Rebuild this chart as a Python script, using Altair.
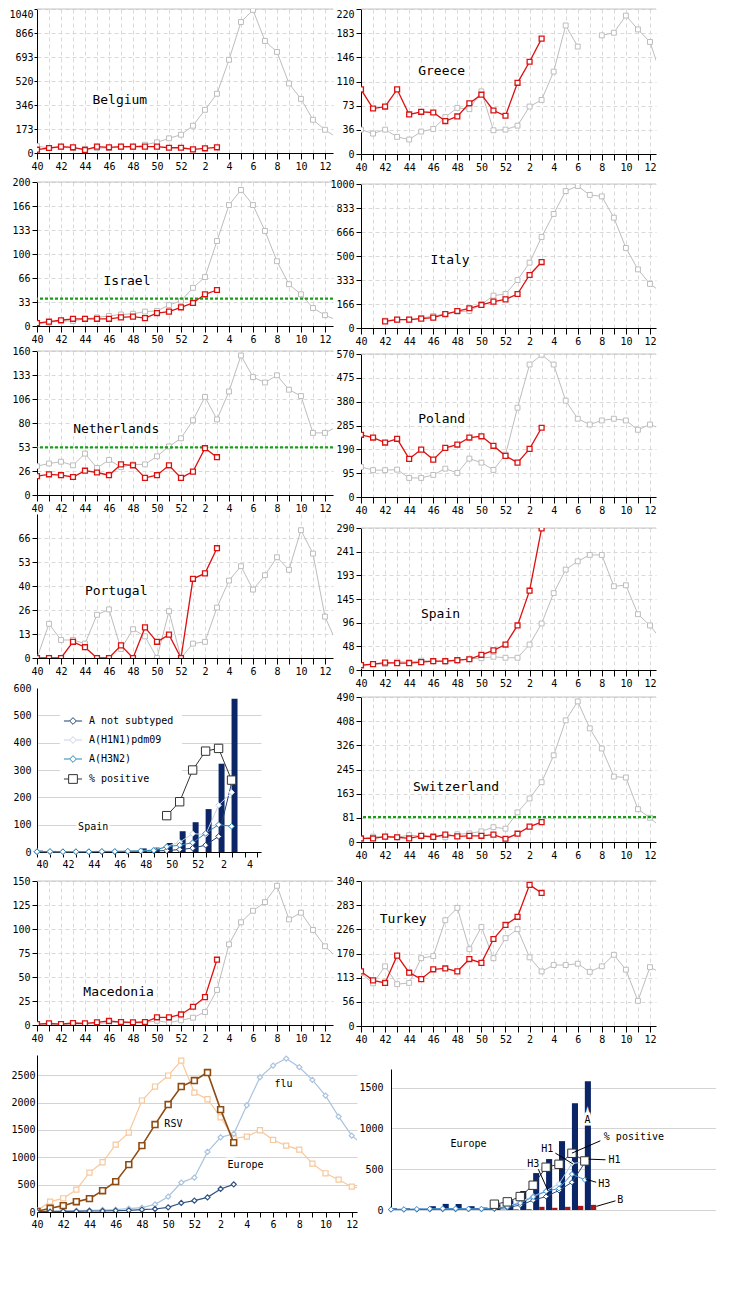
import altair as alt
import pandas as pd

FONT = "DejaVu Sans Mono"
GRID = "#d9d9d9"
GRAY = "#bdbdbd"
RED = "#dd1010"
GREEN = "#17a017"
NAVY = "#0b2566"

WEEK_EXPR = "datum.value % 2 == 0 ? (datum.value <= 12 ? 40 + datum.value : datum.value - 12) + '' : ''"

# ---------------- data (index 0 = week 40, 13 = week 1) ----------------
BELGIUM_GRAY = [50, 36, 43, 36, 29, 36, 36, 43, 43, 60, 77, 106, 132, 197, 312, 428, 673, 946, 1033, 809, 730, 502, 391, 240, 168, 110]
BELGIUM_RED = [24, 36, 46, 41, 22, 46, 41, 46, 46, 46, 46, 38, 38, 26, 34, 41]
GREECE_GRAY = [37, 31, 37, 26, 22, 34, 38, 56, 70, 68, 95, 36, 37, 43, 72, 82, 125, 195, 163, None, 180, 184, 210, 189, 170, 115]
GREECE_RED = [98, 69, 72, 98, 60, 64, 63, 50, 57, 77, 90, 66, 58, 108, 140, 175]
ISRAEL_GRAY = [3, 5, 7, 7, 10, 12, 14, 16, 17, 20, 21, 29, 35, 53, 68, 118, 168, 189, 168, 132, 90, 58, 44, 25, 15, 8]
ISRAEL_RED = [4, 6, 8, 10, 10, 10, 10, 12, 13, 11, 18, 20, 26, 32, 44, 50]
ITALY_GRAY = [None, None, 51, 58, 58, 69, 83, 97, 113, 118, 164, 225, 236, 333, 454, 632, 792, 951, 986, 924, 914, 766, 556, 407, 306, 245]
ITALY_RED = [None, None, 46, 58, 58, 65, 72, 97, 118, 137, 160, 183, 199, 236, 368, 458]
NETH_GRAY = [32, 35, 37, 33, 46, 30, 39, 31, 34, 34, 43, 54, 63, 83, 109, 84, 115, 155, 131, 125, 133, 117, 110, 69, 69, 76]
NETH_RED = [21, 23, 22, 20, 27, 25, 22, 34, 33, 19, 22, 33, 19, 26, 52, 42]
POLAND_GRAY = [120, 107, 107, 109, 76, 76, 88, 113, 96, 153, 137, 108, 169, 356, 528, 567, 528, 384, 312, 289, 305, 312, 305, 268, 289, 270]
POLAND_RED = [248, 237, 217, 232, 152, 189, 149, 196, 209, 237, 242, 204, 164, 137, 192, 276]
PORTUGAL_GRAY = [0, 19, 10, 10, 8, 24, 27, 5, 16, 12, 0, 26, 0, 8, 9, 28, 43, 51, 38, 46, 56, 49, 71, 58, 23, 8]
PORTUGAL_RED = [0, 0, 0, 9, 6, 0, 0, 7, 0, 17, 9, 13, 0, 44, 47, 61]
SPAIN_GRAY = [8, 12, 12, 17, 16, 19, 18, 17, 19, 23, 24, 27, 25, 25, 52, 95, 157, 205, 222, 235, 235, 171, 173, 114, 91, 60]
SPAIN_RED = [10, 12, 15, 14, 14, 16, 18, 18, 20, 22, 31, 40, 52, 91, 162, 289]
SWISS_GRAY = [10, 18, 17, 16, 23, 20, 20, 16, 26, 29, 36, 50, 45, 100, 147, 202, 293, 411, 475, 384, 316, 221, 218, 111, 82, 46]
SWISS_RED = [12, 12, 18, 16, 12, 21, 17, 25, 19, 21, 21, 25, 11, 28, 52, 67]
MACED_GRAY = [0, 0.7, 0.3, 1, 1, 1.7, 2.4, 2.8, 2.1, 2.4, 4.5, 2.4, 4.9, 7.6, 13.5, 36.5, 84, 107, 119, 128, 145, 110, 117, 99, 82, 70]
MACED_RED = [1, 1.7, 1, 2.1, 1.7, 2.8, 4.2, 3.1, 2.8, 3.1, 8, 8, 11, 19, 29, 68]
TURKEY_GRAY = [124, 100, 140, 98, 101, 159, 164, 248, 277, 180, 232, 159, 206, 227, 161, 128, 143, 143, 146, 127, 140, 167, 132, 59, 138, 123]
TURKEY_RED = [128, 107, 101, 165, 125, 110, 133, 135, 128, 157, 148, 204, 237, 256, 331, 312]

# Spain virology panel
SPAIN_A_BARS = [5, 4, 1, 3, 1, 2, 2, 2, 13, 16, 33, 76, 109, 157, 323, 561]
SPAIN_SERIES = ["A not subtyped", "A(H1N1)pdm09", "A(H3N2)", "% positive"]
SPAIN_NS = [1, 1, 1, 1, 1, 1, 1, 2, 3, 4, 5, 9, 14, 25, 57, 252]
SPAIN_H1 = [2, 1, 1, 2, 2, 3, 3, 4, 5, 8, 20, 36, 67, 64, 171, 218]
SPAIN_H3 = [1, 2, 1, 1, 1, 2, 2, 3, 4, 6, 19, 25, 34, 68, 100, 94]
SPAIN_POS = [None] * 10 + [133, 184, 300, 369, 379, 263]
SPAIN_COLORS = ["#1f3f73", "#c6d3e4", "#2b86b8", "#333333"]
SPAIN_SHAPES = ["diamond", "diamond", "diamond", "square"]
LEGEND_DIAMOND = "M-2.7,0H-1M1,0H2.7M-1,0L0,-1L1,0L0,1Z"
LEGEND_SQUARE = "M-2.7,0H-1.3M1.3,0H2.7M-1.3,-1.3H1.3V1.3H-1.3Z"

# Europe RSV / flu panel
EU_RSV_PREV = [24, 189, 250, 409, 720, 909, 1232, 1451, 2037, 2293, 2494, 2768, 2183, 2061, 1732, 1348, 1378, 1494, 1317, 1213, 1140, 884, 707, 591, 463, 420]
EU_RSV_CUR = [12, 67, 116, 189, 244, 390, 555, 866, 1213, 1598, 1964, 2293, 2403, 2549, 1872, 1268]
EU_FLU_PREV = [12, 18, 18, 24, 30, 37, 43, 61, 79, 140, 280, 537, 628, 1098, 1366, 1427, 1951, 2463, 2677, 2805, 2647, 2415, 2128, 1744, 1396, 1200]
EU_FLU_CUR = [6, 6, 12, 12, 18, 18, 24, 30, 43, 55, 85, 165, 207, 268, 421, 506]
EU_LINE_SERIES = [
    (EU_RSV_PREV, "#f7c89c", "square", 1.2, 26),
    (EU_FLU_PREV, "#a9c3de", "diamond", 1.2, 26),
    (EU_RSV_CUR, "#8e4c12", "square", 1.6, 34),
    (EU_FLU_CUR, "#2f5282", "diamond", 1.2, 26),
]
EU_LINE_LABELS = ["RSV", "Europe", "flu"]
EU_LINE_LABEL_POS = [(10.4, 1616), (15.9, 854), (18.8, 2342)]

# Europe virology panel
EU_A_BARS = [20, 20, 15, 47, 75, 75, 47, 30, 70, 120, 233, 453, 625, 845, 1310, 1580]
EU_B_BARS = [0, 0, 0, 2, 5, 8, 25, 8, 5, 8, 10, 39, 27, 39, 51, 63]
EU_V_NS = [5, 5, 6, 8, 10, 10, 10, 10, 12, 30, 60, 120, 165, 240, 340, 580]
EU_V_H1 = [3, 3, 4, 5, 6, 6, 7, 8, 25, 45, 100, 170, 235, 320, 570, 590]
EU_V_H3 = [8, 10, 12, 15, 18, 18, 16, 15, 20, 40, 85, 160, 230, 265, 440, 370]
EU_V_POS = [None] * 8 + [71, 100, 165, 304, 525, 561, 696, 602]
EU_V_SERIES = [
    (EU_V_H1, "#a9cbeb", "diamond", 26),
    (EU_V_NS, "#2d4d7c", "diamond", 26),
    (EU_V_H3, "#3d8fd3", "diamond", 26),
    (EU_V_POS, "#333333", "square", 70),
]
EU_V_LABELS = ["Europe", "A", "% positive", "H1", "H1", "H3", "H3", "B"]
EU_V_LABEL_POS = [(6.0, 808), (15.2, 1106), (18.8, 890), (12.1, 747), (17.3, 616), (11.0, 563), (16.5, 318), (17.75, 127)]
EU_V_LEADERS = [((16.2, 849), (14.0, 698)), ((12.7, 700), (14.1, 563)), ((16.6, 616), (15.3, 624)),
                ((11.4, 500), (12.15, 237)), ((15.9, 339), (15.06, 380)), ((17.4, 114), (15.9, 45))]

COUNTRIES = {
    "Belgium": dict(ymax=1040, gray=BELGIUM_GRAY, red=BELGIUM_RED, lab=(6.9, 383), inside=True,
                    ytick=3, ypad=1),
    "Greece": dict(ymax=220, gray=GREECE_GRAY, red=GREECE_RED, lab=(6.7, 126), inside=True),
    "Israel": dict(ymax=200, gray=ISRAEL_GRAY, red=ISRAEL_RED, lab=(7.5, 63), thr=38),
    "Italy": dict(ymax=1000, gray=ITALY_GRAY, red=ITALY_RED, lab=(7.4, 472)),
    "Netherlands": dict(ymax=160, gray=NETH_GRAY, red=NETH_RED, lab=(6.6, 73), thr=53),
    "Poland": dict(ymax=570, gray=POLAND_GRAY, red=POLAND_RED, lab=(6.7, 312)),
    "Portugal": dict(ymax=80, gray=PORTUGAL_GRAY, red=PORTUGAL_RED, lab=(6.6, 37), top=False),
    "Spain": dict(ymax=290, gray=SPAIN_GRAY, red=SPAIN_RED, lab=(6.6, 115)),
    "Switzerland": dict(ymax=490, gray=SWISS_GRAY, red=SWISS_RED, lab=(7.9, 187), thr=84),
    "Macedonia": dict(ymax=150, gray=MACED_GRAY, red=MACED_RED, lab=(6.8, 34)),
    "Turkey": dict(ymax=340, gray=TURKEY_GRAY, red=TURKEY_RED, lab=(3.5, 250)),
}


def week_axis(n, offset=0, grid=True, tick=6):
    return alt.Axis(values=list(range(n)), labelExpr=WEEK_EXPR, grid=grid, gridDash=[4, 3],
                    gridColor=GRID, domainColor="black", tickColor="black", tickSize=tick,
                    labelFont=FONT, labelFontSize=10, labelColor="black", title=None,
                    labelPadding=2, labelFlush=False, labelOverlap=False, labelOffset=offset)


def text_layers(df, X, Y, size):
    halo = alt.Chart(df).mark_text(font=FONT, fontSize=size, stroke="white", strokeWidth=5,
                                   color="white").encode(x=X, y=Y, text="t:N")
    txt = alt.Chart(df).mark_text(font=FONT, fontSize=size, color="black").encode(x=X, y=Y, text="t:N")
    return [halo, txt]


def series_df(vals):
    return pd.DataFrame({"i": list(range(len(vals))), "v": vals})


def country(name, width, height, xmax):
    c = COUNTRIES[name]
    ymax = c["ymax"]
    show_top = c.get("top", True)
    vals = [ymax * k / 6 for k in range(7 if show_top else 6)]
    baseline = "middle"
    if c.get("inside"):
        baseline = {"condition": {"test": "datum.value >= %s" % ymax, "value": "top"}, "value": "middle"}
    X = alt.X("i:Q", scale=alt.Scale(domain=[0, xmax], nice=False, zero=False), axis=week_axis(25))
    Y = alt.Y("v:Q", scale=alt.Scale(domain=[0, ymax], nice=False),
              axis=alt.Axis(values=vals, labelExpr="floor(datum.value)", grid=True, gridDash=[4, 3],
                            gridColor=GRID, domainColor="black", tickColor="black",
                            tickSize=c.get("ytick", 5), labelFont=FONT, labelFontSize=10,
                            labelColor="black", title=None, labelPadding=c.get("ypad", 2),
                            labelBaseline=baseline))
    g = series_df(c["gray"])
    r = series_df(c["red"])
    layers = []
    if show_top:
        layers.append(alt.Chart(pd.DataFrame({"v": [ymax]})).mark_rule(color="#c4c4c4").encode(y=Y))
    layers += [
        alt.Chart(g).mark_line(color=GRAY, strokeWidth=1, clip=True).encode(x=X, y=Y),
        alt.Chart(g).mark_point(shape="square", size=24, filled=True, fill="white", stroke=GRAY,
                                strokeWidth=1, opacity=1, clip=True).encode(x=X, y=Y),
    ]
    if "thr" in c:
        layers.append(alt.Chart(pd.DataFrame({"v": [c["thr"]]})).mark_rule(
            color=GREEN, strokeWidth=2.2, strokeDash=[3, 2]).encode(y=Y))
    layers += [
        alt.Chart(r).mark_line(color=RED, strokeWidth=1.3, clip=True).encode(x=X, y=Y),
        alt.Chart(r).mark_point(shape="square", size=24, filled=True, fill="white", stroke=RED,
                                strokeWidth=1.3, opacity=1, clip=True).encode(x=X, y=Y),
    ]
    lab = pd.DataFrame({"i": [c["lab"][0]], "v": [c["lab"][1]], "t": [name]})
    layers += text_layers(lab, X, Y, 13)
    return alt.layer(*layers).properties(width=width, height=height)


def spain_virology():
    X = alt.X("i:Q", scale=alt.Scale(domain=[0, 17.27], nice=False, zero=False),
              axis=week_axis(18, offset=5, grid=False, tick=5))
    Y = alt.Y("v:Q", scale=alt.Scale(domain=[0, 600], nice=False),
              axis=alt.Axis(values=[0, 100, 200, 300, 400, 500, 600], grid=True, format="d",
                            gridColor={"condition": {"test": "datum.value >= 600", "value": "transparent"},
                                       "value": "#d4d4d4"},
                            domainColor="black", ticks=False, labelFont=FONT, labelFontSize=10,
                            labelColor="black", title=None, labelPadding=6))
    rows = []
    for s, vals in zip(SPAIN_SERIES, [SPAIN_NS, SPAIN_H1, SPAIN_H3, SPAIN_POS]):
        for i, v in enumerate(vals):
            rows.append({"i": i, "v": v, "s": s})
    pts = pd.DataFrame(rows)
    leg = alt.Legend(title=None, orient="none", legendX=23, legendY=20, fillColor="white",
                     padding=8, labelFont=FONT, labelFontSize=10, labelColor="black", labelOffset=11,
                     symbolSize=45, symbolStrokeWidth=1, symbolFillColor="white", rowPadding=7)
    cscale = alt.Scale(domain=SPAIN_SERIES, range=SPAIN_COLORS)
    sscale = alt.Scale(domain=SPAIN_SERIES,
                       range=[LEGEND_DIAMOND, LEGEND_DIAMOND, LEGEND_DIAMOND, LEGEND_SQUARE])
    lab = pd.DataFrame({"i": [4.33], "v": [91], "t": ["Spain"]})
    layers = [
        alt.Chart(series_df(SPAIN_A_BARS)).mark_rect(color=NAVY).transform_calculate(
            i2="datum.i + 0.46").encode(x=X, x2="i2:Q", y=Y, y2=alt.datum(0)),
    ] + text_layers(lab, X, Y, 10)
    for vals, col, shape in zip([SPAIN_NS, SPAIN_H1, SPAIN_H3, SPAIN_POS], SPAIN_COLORS, SPAIN_SHAPES):
        d = series_df(vals)
        size = 70 if shape == "square" else 32
        layers.append(alt.Chart(d).mark_line(color=col, strokeWidth=1).encode(x=X, y=Y))
        layers.append(alt.Chart(d).mark_point(shape=shape, size=size, filled=True, fill="white",
                                              stroke=col, strokeWidth=1, opacity=1).encode(x=X, y=Y))
    layers.append(
        alt.Chart(pts).transform_filter("false").mark_point(
            filled=True, fill="white", strokeWidth=1, opacity=1).encode(
            x=X, y=Y,
            stroke=alt.Stroke("s:N", scale=cscale, legend=leg),
            shape=alt.Shape("s:N", scale=sscale, legend=leg)))
    return alt.layer(*layers).properties(width=224, height=164)


def europe_lines():
    X = alt.X("i:Q", scale=alt.Scale(domain=[0, 24.4], nice=False, zero=False),
              axis=week_axis(25, grid=False, tick=5))
    Y = alt.Y("v:Q", scale=alt.Scale(domain=[0, 2870], nice=False),
              axis=alt.Axis(values=[0, 500, 1000, 1500, 2000, 2500], grid=True, gridColor="#d4d4d4",
                            format="d", domainColor="black", ticks=False, labelFont=FONT,
                            labelFontSize=10, labelColor="black", labelPadding=2, title=None))
    lab = pd.DataFrame({"i": [p[0] for p in EU_LINE_LABEL_POS], "v": [p[1] for p in EU_LINE_LABEL_POS],
                        "t": EU_LINE_LABELS})
    layers = text_layers(lab, X, Y, 10)
    for vals, col, shape, sw, size in EU_LINE_SERIES:
        d = series_df(vals)
        layers.append(alt.Chart(d).mark_line(color=col, strokeWidth=sw, clip=True).encode(x=X, y=Y))
        layers.append(alt.Chart(d).mark_point(shape=shape, size=size, filled=True, fill="white",
                                              stroke=col, strokeWidth=sw, opacity=1, clip=True)
                      .encode(x=X, y=Y))
    return alt.layer(*layers).properties(width=320, height=157)


def europe_virology():
    xs = alt.Scale(domain=[0, 25.15], nice=False, zero=False)
    X = alt.X("i:Q", scale=xs, axis=week_axis(26, offset=5, grid=False, tick=5))
    Y = alt.Y("v:Q", scale=alt.Scale(domain=[0, 1730], nice=False),
              axis=alt.Axis(values=[0, 500, 1000, 1500], grid=True, gridColor="#d4d4d4", format="d",
                            domainColor="black", ticks=False, labelFont=FONT, labelFontSize=10,
                            labelColor="black", title=None, labelPadding=8))
    lead = pd.DataFrame({"i": [a[0] for a, b in EU_V_LEADERS], "v": [a[1] for a, b in EU_V_LEADERS],
                         "i2": [b[0] for a, b in EU_V_LEADERS], "v2": [b[1] for a, b in EU_V_LEADERS]})
    lab = pd.DataFrame({"i": [p[0] for p in EU_V_LABEL_POS], "v": [p[1] for p in EU_V_LABEL_POS],
                        "t": EU_V_LABELS})
    layers = [
        alt.Chart(series_df(EU_A_BARS)).mark_rect(color=NAVY).transform_calculate(
            i2="datum.i + 0.47").encode(x=X, x2="i2:Q", y=Y, y2=alt.datum(0)),
        alt.Chart(series_df(EU_B_BARS)).mark_rect(color="#a81515").transform_calculate(
            i1="datum.i + 0.47", i2="datum.i + 0.88").encode(
            x=alt.X("i1:Q", scale=xs, axis=None), x2="i2:Q", y=Y, y2=alt.datum(0)),
    ]
    for vals, col, shape, size in EU_V_SERIES:
        d = series_df(vals)
        layers.append(alt.Chart(d).mark_line(color=col, strokeWidth=1).encode(x=X, y=Y))
        layers.append(alt.Chart(d).mark_point(shape=shape, size=size, filled=True, fill="white",
                                              stroke=col, strokeWidth=1, opacity=1).encode(x=X, y=Y))
    layers.append(alt.Chart(lead).mark_rule(color="black", strokeWidth=1).encode(
        x=X, y=Y, x2="i2:Q", y2="v2:Q"))
    layers += text_layers(lab, X, Y, 10)
    return alt.layer(*layers).properties(width=325, height=141)


def spacer(w, h):
    return alt.Chart(pd.DataFrame({"z": [0]})).mark_point(opacity=0).encode(
        x=alt.value(0), y=alt.value(0)).properties(width=w, height=h)


LW, RW = 296, 295
left = alt.vconcat(
    country("Belgium", LW, 144, 24.67), spacer(LW, 29),
    country("Israel", LW, 144, 24.67), spacer(LW, 25),
    country("Netherlands", LW, 144, 24.67), spacer(LW, 19),
    country("Portugal", LW, 144, 24.67), spacer(LW, 30),
    spain_virology(), spacer(LW, 29),
    country("Macedonia", LW, 144, 24.67),
    spacing=0, bounds="flush").resolve_scale(stroke="independent", shape="independent")
right = alt.vconcat(
    country("Greece", RW, 145, 24.5), spacer(RW, 30),
    country("Italy", RW, 144, 24.5), spacer(RW, 26),
    country("Poland", RW, 143, 24.5), spacer(RW, 31),
    country("Spain", RW, 142, 24.5), spacer(RW, 27),
    country("Switzerland", RW, 145, 24.5), spacer(RW, 39),
    country("Turkey", RW, 145, 24.5),
    spacing=0, bounds="flush")
top = alt.hconcat(left, right, spacing=-6).resolve_scale(stroke="independent", shape="independent")
bottom = alt.hconcat(
    europe_lines(),
    alt.vconcat(spacer(325, 14), europe_virology(), spacing=0, bounds="flush"),
    spacing=0)

chart = alt.vconcat(top, bottom, spacing=8,
                    padding={"left": 0, "top": 0, "right": 0, "bottom": 0}).resolve_scale(
    stroke="independent", shape="independent").configure_view(strokeWidth=0)

chart.save("out.html", embed_options={"renderer": "svg", "actions": False})
